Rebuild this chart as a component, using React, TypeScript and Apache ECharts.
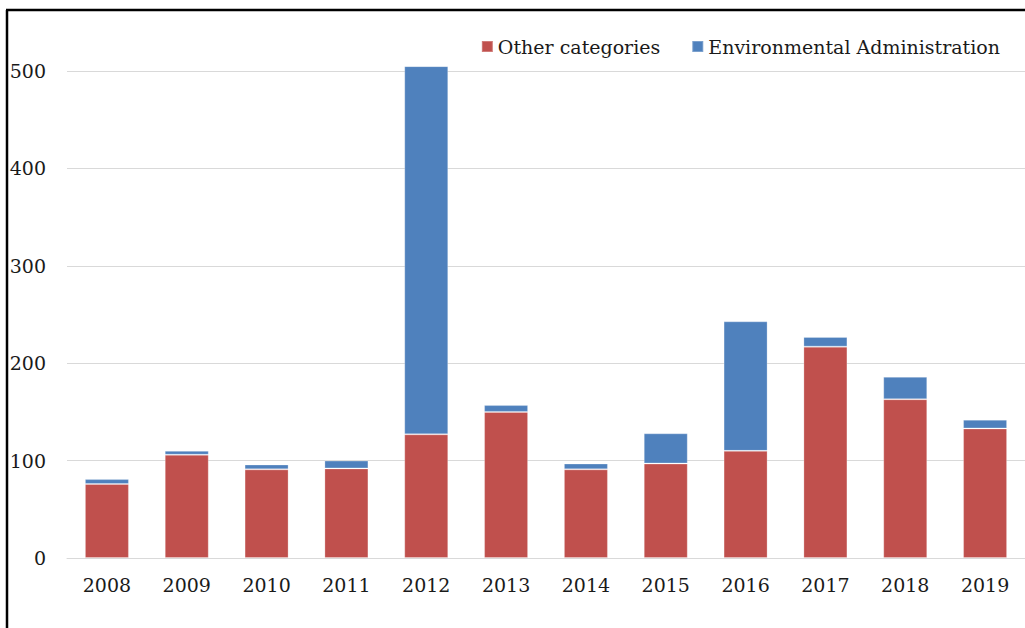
import React, { useEffect, useRef } from "react";
import * as echarts from "echarts";

const years = ["2008", "2009", "2010", "2011", "2012", "2013", "2014", "2015", "2016", "2017", "2018", "2019"];
const otherCategories = [76, 106, 91, 92, 127, 150, 91, 97, 110, 217, 163, 133];
const environmentalAdministration = [5, 4, 5, 8, 378, 7, 6, 31, 133, 10, 23, 9];
const yTicks = [0, 100, 200, 300, 400, 500];

const FONT = "DejaVu Serif";

export default function App() {
  const ref = useRef<HTMLDivElement>(null);
  useEffect(() => {
    if (!ref.current) return;
    const chart = echarts.init(ref.current, null, { renderer: "svg" });
    chart.setOption({
      animation: false,
      backgroundColor: "#ffffff",
      textStyle: { fontFamily: FONT },
      legend: {
        top: 32,
        right: 20,
        itemWidth: 11,
        itemHeight: 11,
        itemGap: 31,
        icon: "rect",
        textStyle: { fontFamily: FONT, fontSize: 19, color: "#1a1a1a", padding: [0, 0, 0, 0] },
        data: ["Other categories", "Environmental Administration"],
      },
      grid: { left: 67, width: 961, top: 71, bottom: 70, containLabel: false },
      xAxis: {
        type: "category",
        data: years,
        axisLine: { show: true, lineStyle: { color: "#d9d9d9", width: 1 } },
        axisTick: { show: false },
        axisLabel: { fontFamily: FONT, fontSize: 19, color: "#1a1a1a", margin: 17 },
      },
      yAxis: {
        type: "value",
        min: yTicks[0],
        max: yTicks[yTicks.length - 1],
        interval: 100,
        axisLine: { show: false },
        axisTick: { show: false },
        splitLine: { lineStyle: { color: "#d9d9d9", width: 1 } },
        axisLabel: { fontFamily: FONT, fontSize: 19, color: "#1a1a1a", margin: 21 },
      },
      series: [
        {
          name: "Other categories",
          type: "bar",
          stack: "total",
          barWidth: 44,
          clip: false,
          data: otherCategories,
          itemStyle: { color: "#C0504D", borderColor: "rgba(255,255,255,0.25)", borderWidth: 1 },
        },
        {
          name: "Environmental Administration",
          type: "bar",
          stack: "total",
          barWidth: 44,
          clip: false,
          data: environmentalAdministration,
          itemStyle: { color: "#4F81BD", borderColor: "rgba(255,255,255,0.25)", borderWidth: 1 },
        },
      ],
      graphic: [
        { type: "line", shape: { x1: 7, y1: 10, x2: 7, y2: 628 }, style: { stroke: "#000", lineWidth: 2.5 } },
        { type: "line", shape: { x1: 6, y1: 10, x2: 1025, y2: 10 }, style: { stroke: "#000", lineWidth: 2.5 } },
      ],
    });
    return () => chart.dispose();
  }, []);
  return (
    <div
      ref={ref}
      style={{ position: "fixed", left: 0, top: 0, width: 1025, height: 628 }}
    />
  );
}
